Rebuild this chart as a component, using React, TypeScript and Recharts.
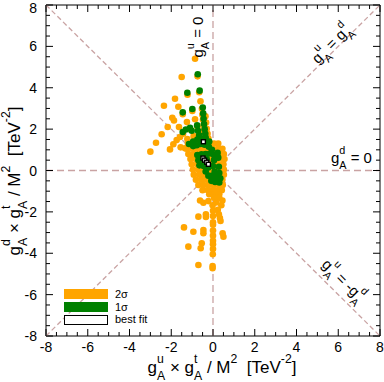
import React from 'react';
import {
  ScatterChart,
  Scatter,
  XAxis,
  YAxis,
  ReferenceLine,
  ReferenceArea,
  ReferenceDot,
  Legend,
} from 'recharts';

// ---------- layout ----------
const W = 384;
const H = 382;
const MARGIN = { top: 5, right: 4, bottom: 0, left: 0 };
const Y_AXIS_W = 46;
const X_AXIS_H = 46;
const PLOT_LEFT = MARGIN.left + Y_AXIS_W;
const PLOT_RIGHT = W - MARGIN.right;
const PLOT_TOP = MARGIN.top;
const PLOT_BOTTOM = H - MARGIN.bottom - X_AXIS_H;

const FONT = '"Liberation Sans", Arial, Helvetica, sans-serif';
const LINE_COLOR = '#c9a3a3';
const ORANGE = '#ffa500';
const GREEN = '#008000';
const DOT_R = 3.3;

// ---------- data ----------
const AXIS_DOMAIN: [number, number] = [-8, 8];
const AXIS_TICKS = [
  -8, -7.5, -7, -6.5, -6, -5.5, -5, -4.5, -4, -3.5, -3, -2.5, -2, -1.5, -1, -0.5,
  0, 0.5, 1, 1.5, 2, 2.5, 3, 3.5, 4, 4.5, 5, 5.5, 6, 6.5, 7, 7.5, 8,
];
const SERIES_NAMES = ['2σ', '1σ', 'best fit'];

// 2 sigma region points [x, y]
const sigma2Points: [number, number][] = [
  // upper spray
  [-0.86, 5.4], [-0.74, 4.55], [-0.66, 3.78], [-0.6, 3.35], [-0.53, 2.98], [-0.51, 2.7],
  [-0.48, 2.45], [-0.45, 2.2], [-0.42, 1.95],
  [-0.36, 2.62], [-0.33, 2.32], [-0.3, 2.02], [-0.26, 1.78], [-0.22, 1.55],
  [-1.5, 4.52], [-1.22, 3.66], [-0.99, 2.88], [-0.86, 2.48], [-0.74, 2.1], [-0.64, 1.8], [-0.55, 1.52],
  [-1.82, 3.47], [-1.66, 3.08], [-1.45, 2.72], [-1.25, 2.34], [-1.09, 1.98], [-0.93, 1.66], [-0.79, 1.4],
  [-2.35, 3.13], [-1.95, 2.55], [-1.87, 2.42], [-1.63, 2.1], [-1.43, 1.78], [-1.23, 1.52], [-1.03, 1.3],
  [-2.17, 2.1], [-2.46, 1.75], [-2.73, 1.34], [-3.0, 0.91],
  [-2.06, 1.02], [-1.9, 1.27], [-1.74, 1.47], [-1.58, 1.62],
  [-1.55, 1.12], [-1.34, 1.07],
  // central blob
  [-1.2, 1.3], [-0.95, 1.3], [-0.7, 1.3], [-0.45, 1.3], [-0.2, 1.3], [0.05, 1.3], [0.25, 1.3],
  [-1.25, 1.05], [-1.0, 1.05], [-0.75, 1.05], [-0.5, 1.05], [-0.25, 1.05], [0.0, 1.05], [0.25, 1.05], [0.45, 1.05],
  [-1.18, 0.8], [-0.92, 0.8], [-0.66, 0.8], [-0.4, 0.8], [-0.15, 0.8], [0.1, 0.8], [0.35, 0.8], [0.52, 0.8],
  [-1.08, 0.55], [-0.82, 0.55], [-0.56, 0.55], [-0.3, 0.55], [-0.05, 0.55], [0.2, 0.55], [0.45, 0.55], [0.55, 0.55],
  [-1.02, 0.3], [-0.76, 0.3], [-0.5, 0.3], [-0.25, 0.3], [0.0, 0.3], [0.25, 0.3], [0.5, 0.3],
  [-0.96, 0.05], [-0.7, 0.05], [-0.45, 0.05], [-0.2, 0.05], [0.05, 0.05], [0.3, 0.05], [0.52, 0.05],
  [-0.92, -0.2], [-0.66, -0.2], [-0.4, -0.2], [-0.15, -0.2], [0.1, -0.2], [0.35, -0.2], [0.52, -0.2],
  [-0.82, -0.45], [-0.56, -0.45], [-0.3, -0.45], [-0.05, -0.45], [0.2, -0.45], [0.45, -0.45],
  [-0.7, -0.7], [-0.45, -0.7], [-0.2, -0.7], [0.05, -0.7], [0.3, -0.7], [0.47, -0.7],
  [-0.5, -0.95], [-0.25, -0.95], [0.0, -0.95], [0.25, -0.95], [0.42, -0.95],
  [-0.18, -1.15], [0.08, -1.15], [0.3, -1.15],
  // lower spray
  [0.05, -1.32], [0.3, -1.32], [0.45, -1.45], [0.15, -1.55], [0.4, -1.68], [-0.02, -1.68],
  [-0.22, -1.48], [-0.46, -1.56], [-0.62, -1.45],
  [0.0, -1.95], [0.0, -2.2], [0.0, -2.5], [0.0, -2.62], [0.0, -2.9], [0.0, -3.15], [0.0, -3.4],
  [0.0, -3.56], [0.0, -3.8], [-0.01, -4.05], [-0.02, -4.62], [-0.02, -4.72],
  [0.23, -1.9], [0.28, -2.12], [0.33, -2.3], [0.36, -2.44],
  [0.46, -3.03], [0.5, -3.2],
  [-0.34, -2.12], [-0.34, -2.25], [-0.7, -2.23],
  [-0.46, -2.88], [-0.46, -3.03], [-0.94, -2.96], [-1.39, -2.75],
  [-0.54, -3.52], [-0.59, -3.76], [-1.18, -3.68], [-0.7, -4.57],
];

// 1 sigma region points [x, y]
const sigma1Points: [number, number][] = [
  [-0.73, 4.65], [-0.64, 3.86], [-1.23, 3.76], [-0.99, 2.97], [-1.45, 2.81],
  [-0.49, 3.04], [-0.47, 2.76], [-0.45, 2.5], [-0.43, 2.25], [-0.4, 2.0], [-0.37, 1.78],
  [-1.45, 1.86], [-1.3, 1.98], [-1.1, 2.06], [-1.02, 1.92], [-0.76, 2.18], [-0.72, 1.92], [-0.66, 1.7],
  [-1.15, 1.28], [-0.95, 1.4], [-0.75, 1.5], [-0.55, 1.55], [-0.35, 1.58], [-0.18, 1.4],
  [-0.95, 1.18], [-0.78, 1.22], [-0.6, 1.28], [-0.4, 1.25], [-0.2, 1.15], [-0.05, 1.0],
  [-0.75, 0.75], [-0.55, 0.78], [-0.35, 0.8], [-0.15, 0.82], [0.05, 0.75], [0.22, 0.85], [0.25, 0.62],
  [-0.7, 0.5], [-0.5, 0.52], [-0.3, 0.55], [0.05, 0.5],
  [-0.65, 0.25], [-0.45, 0.22], [-0.22, 0.15], [0.0, 0.22], [0.28, 0.18],
  [-0.35, -0.05], [0.08, -0.05], [0.3, -0.12],
  [-0.22, -0.25], [-0.02, -0.25], [0.15, -0.32], [0.35, -0.38],
  [-0.08, -0.5], [0.1, -0.55], [0.3, -0.58],
];

// best fit points [x, y]
const bestFitPoints: [number, number][] = [
  [-0.46, 1.39], [-0.48, 0.6], [-0.4, 0.5], [-0.3, 0.4], [-0.22, 0.3],
];

const toData = (pts: [number, number][]) => pts.map(([x, y]) => ({ x, y }));
const sigma2Data = toData(sigma2Points);
const sigma1Data = toData(sigma1Points);
const bestFitData = toData(bestFitPoints);

// ---------- rich text ----------
const SUP = -0.6;
const SUB = 0.42;
const SMALL = 0.72;
const GLYPH_W: Record<string, number> = { u: 0.556, d: 0.556, t: 0.278 };
type Seg = { t: string; shift?: number; back?: number; small?: boolean };

const gA = (sup: string, prefix = ''): Seg[] => [
  { t: prefix + 'g' },
  { t: sup, shift: SUP, small: true },
  { t: 'A', shift: SUB, small: true, back: GLYPH_W[sup] },
];

function renderSegs(segs: Seg[], fs: number) {
  let cur = 0;
  return segs.map((s, i) => {
    const target = (s.shift ?? 0) * fs;
    const dy = target - cur;
    cur = target;
    const size = s.small ? fs * SMALL : fs;
    return (
      <tspan key={i} dy={dy} dx={s.back ? -s.back * fs * SMALL : 0} fontSize={size}>
        {s.t}
      </tspan>
    );
  });
}

const X_LABEL: Seg[] = [
  ...gA('u'), ...gA('t', ' × '), { t: ' / M' }, { t: '2', shift: SUP, small: true },
  { t: '  [TeV' }, { t: '-2', shift: SUP, small: true }, { t: ']' },
];
const Y_LABEL: Seg[] = [
  ...gA('d'), ...gA('t', ' × '), { t: ' / M' }, { t: '2', shift: SUP, small: true },
  { t: '  [TeV' }, { t: '-2', shift: SUP, small: true }, { t: ']' },
];
const ANNO_U0: Seg[] = [...gA('u'), { t: ' = 0' }];
const ANNO_UD: Seg[] = [...gA('u'), ...gA('d', ' = ')];
const ANNO_D0: Seg[] = [...gA('d'), { t: ' = 0' }];
const ANNO_UMD: Seg[] = [...gA('u'), ...gA('d', ' = -')];

const textStyle: React.CSSProperties = { whiteSpace: 'pre' };
const LABEL_FS = 17;

const XLabel = () => (
  <text x={222} y={373} textAnchor="middle" fontFamily={FONT} fontSize={LABEL_FS} fill="#000" style={textStyle}>
    {renderSegs(X_LABEL, LABEL_FS)}
  </text>
);

const YLabel = () => (
  <text
    x={20}
    y={181}
    transform="rotate(-90 20 181)"
    textAnchor="middle"
    fontFamily={FONT}
    fontSize={LABEL_FS}
    fill="#000"
    style={textStyle}
  >
    {renderSegs(Y_LABEL, LABEL_FS)}
  </text>
);

const makeAnno = (segs: Seg[], rotate: number, anchor: 'start' | 'middle' | 'end') => (props: any) => {
  const vb = props.viewBox || {};
  const x = (vb.x ?? 0) + (vb.width ?? 0) / 2;
  const y = (vb.y ?? 0) + (vb.height ?? 0) / 2;
  return (
    <text
      x={x}
      y={y}
      transform={`rotate(${rotate} ${x} ${y})`}
      textAnchor={anchor}
      fontFamily={FONT}
      fontSize={15}
      fill="#000"
      style={textStyle}
    >
      {renderSegs(segs, 15)}
    </text>
  );
};

// ---------- ticks ----------
const XTick = (props: any) => {
  const { x, payload } = props;
  const v = payload.value as number;
  const major = v % 2 === 0;
  const L = major ? 7 : 4;
  return (
    <g>
      <line x1={x} y1={PLOT_BOTTOM} x2={x} y2={PLOT_BOTTOM - L} stroke="#000" strokeWidth={1} />
      <line x1={x} y1={PLOT_TOP} x2={x} y2={PLOT_TOP + L} stroke="#000" strokeWidth={1} />
      {major && (
        <text x={x} y={PLOT_BOTTOM + 16} textAnchor="middle" fontFamily={FONT} fontSize={14} fill="#000">
          {v}
        </text>
      )}
    </g>
  );
};

const YTick = (props: any) => {
  const { y, payload } = props;
  const v = payload.value as number;
  const major = v % 2 === 0;
  const L = major ? 7 : 4;
  return (
    <g>
      <line x1={PLOT_LEFT} y1={y} x2={PLOT_LEFT + L} y2={y} stroke="#000" strokeWidth={1} />
      <line x1={PLOT_RIGHT} y1={y} x2={PLOT_RIGHT - L} y2={y} stroke="#000" strokeWidth={1} />
      {major && (
        <text x={PLOT_LEFT - 9} y={Math.max(y + 5, 12.5)} textAnchor="end" fontFamily={FONT} fontSize={14} fill="#000">
          {v}
        </text>
      )}
    </g>
  );
};

// ---------- marks ----------
const OrangeDot = (p: any) => <circle cx={p.cx} cy={p.cy} r={DOT_R} fill={ORANGE} />;
const GreenDot = (p: any) => <circle cx={p.cx} cy={p.cy} r={DOT_R} fill={GREEN} />;
const BestFitMark = (p: any) => (
  <rect x={p.cx - 2} y={p.cy - 2} width={4} height={4} fill="#fff" stroke="#000" strokeWidth={1.4} />
);

// ---------- legend ----------
const LEGEND_COLORS: Record<string, string> = { '2σ': ORANGE, '1σ': GREEN, 'best fit': '#fff' };
const LegendContent = (props: any) => {
  const fromPayload: string[] =
    props.payload && props.payload.length ? props.payload.map((p: any) => String(p.value)) : [];
  const items = SERIES_NAMES.filter((n) => fromPayload.length === 0 || fromPayload.includes(n));
  return (
    <div style={{ fontFamily: FONT, fontSize: 11, color: '#000' }}>
      {items.map((name) => (
        <div key={name} style={{ display: 'flex', alignItems: 'center', height: 12.7 }}>
          <div
            style={{
              width: 44,
              height: 10,
              boxSizing: 'border-box',
              background: LEGEND_COLORS[name] ?? '#fff',
              border: name === 'best fit' ? '1.5px solid #000' : 'none',
            }}
          />
          <span style={{ marginLeft: 7, lineHeight: '11px' }}>{name}</span>
        </div>
      ))}
    </div>
  );
};

export default function App() {
  return (
    <div style={{ position: 'absolute', left: 0, top: 0, width: W, height: H, background: '#fff' }}>
      <ScatterChart width={W} height={H} margin={MARGIN}>
        <XAxis
          type="number"
          dataKey="x"
          domain={AXIS_DOMAIN}
          ticks={AXIS_TICKS}
          interval={0}
          tick={XTick}
          tickLine={false}
          axisLine={false}
          height={X_AXIS_H}
          allowDataOverflow
          label={XLabel}
        />
        <YAxis
          type="number"
          dataKey="y"
          domain={AXIS_DOMAIN}
          ticks={AXIS_TICKS}
          interval={0}
          tick={YTick}
          tickLine={false}
          axisLine={false}
          width={Y_AXIS_W}
          allowDataOverflow
          label={YLabel}
        />
        <ReferenceLine x={0} stroke={LINE_COLOR} strokeDasharray="7 4" strokeWidth={1.3} />
        <ReferenceLine y={0} stroke={LINE_COLOR} strokeDasharray="7 4" strokeWidth={1.3} />
        <ReferenceLine
          segment={[{ x: -8, y: -8 }, { x: 8, y: 8 }]}
          stroke={LINE_COLOR}
          strokeDasharray="5 3"
          strokeWidth={1.3}
        />
        <ReferenceLine
          segment={[{ x: -8, y: 8 }, { x: 8, y: -8 }]}
          stroke={LINE_COLOR}
          strokeDasharray="5 3"
          strokeWidth={1.3}
        />
        <Scatter name={SERIES_NAMES[0]} data={sigma2Data} fill={ORANGE} shape={OrangeDot} isAnimationActive={false} />
        <Scatter name={SERIES_NAMES[1]} data={sigma1Data} fill={GREEN} shape={GreenDot} isAnimationActive={false} />
        <Scatter
          name={SERIES_NAMES[2]}
          data={bestFitData}
          fill="#fff"
          stroke="#000"
          shape={BestFitMark}
          isAnimationActive={false}
        />
        <ReferenceDot x={-0.5} y={6.45} r={0} fill="none" stroke="none" label={makeAnno(ANNO_U0, -90, 'middle')} />
        <ReferenceDot x={5.85} y={5.95} r={0} fill="none" stroke="none" label={makeAnno(ANNO_UD, -45, 'middle')} />
        <ReferenceDot x={5.65} y={0.36} r={0} fill="none" stroke="none" label={makeAnno(ANNO_D0, 0, 'start')} />
        <ReferenceDot x={6.08} y={-5.49} r={0} fill="none" stroke="none" label={makeAnno(ANNO_UMD, 45, 'middle')} />
        <ReferenceArea x1={-8} x2={8} y1={-8} y2={8} fill="none" stroke="#000" strokeWidth={1} />
        <Legend
          content={LegendContent}
          verticalAlign="middle"
          layout="horizontal"
          wrapperStyle={{ left: 64, top: 288, width: 'auto', height: 'auto' }}
        />
      </ScatterChart>
    </div>
  );
}
